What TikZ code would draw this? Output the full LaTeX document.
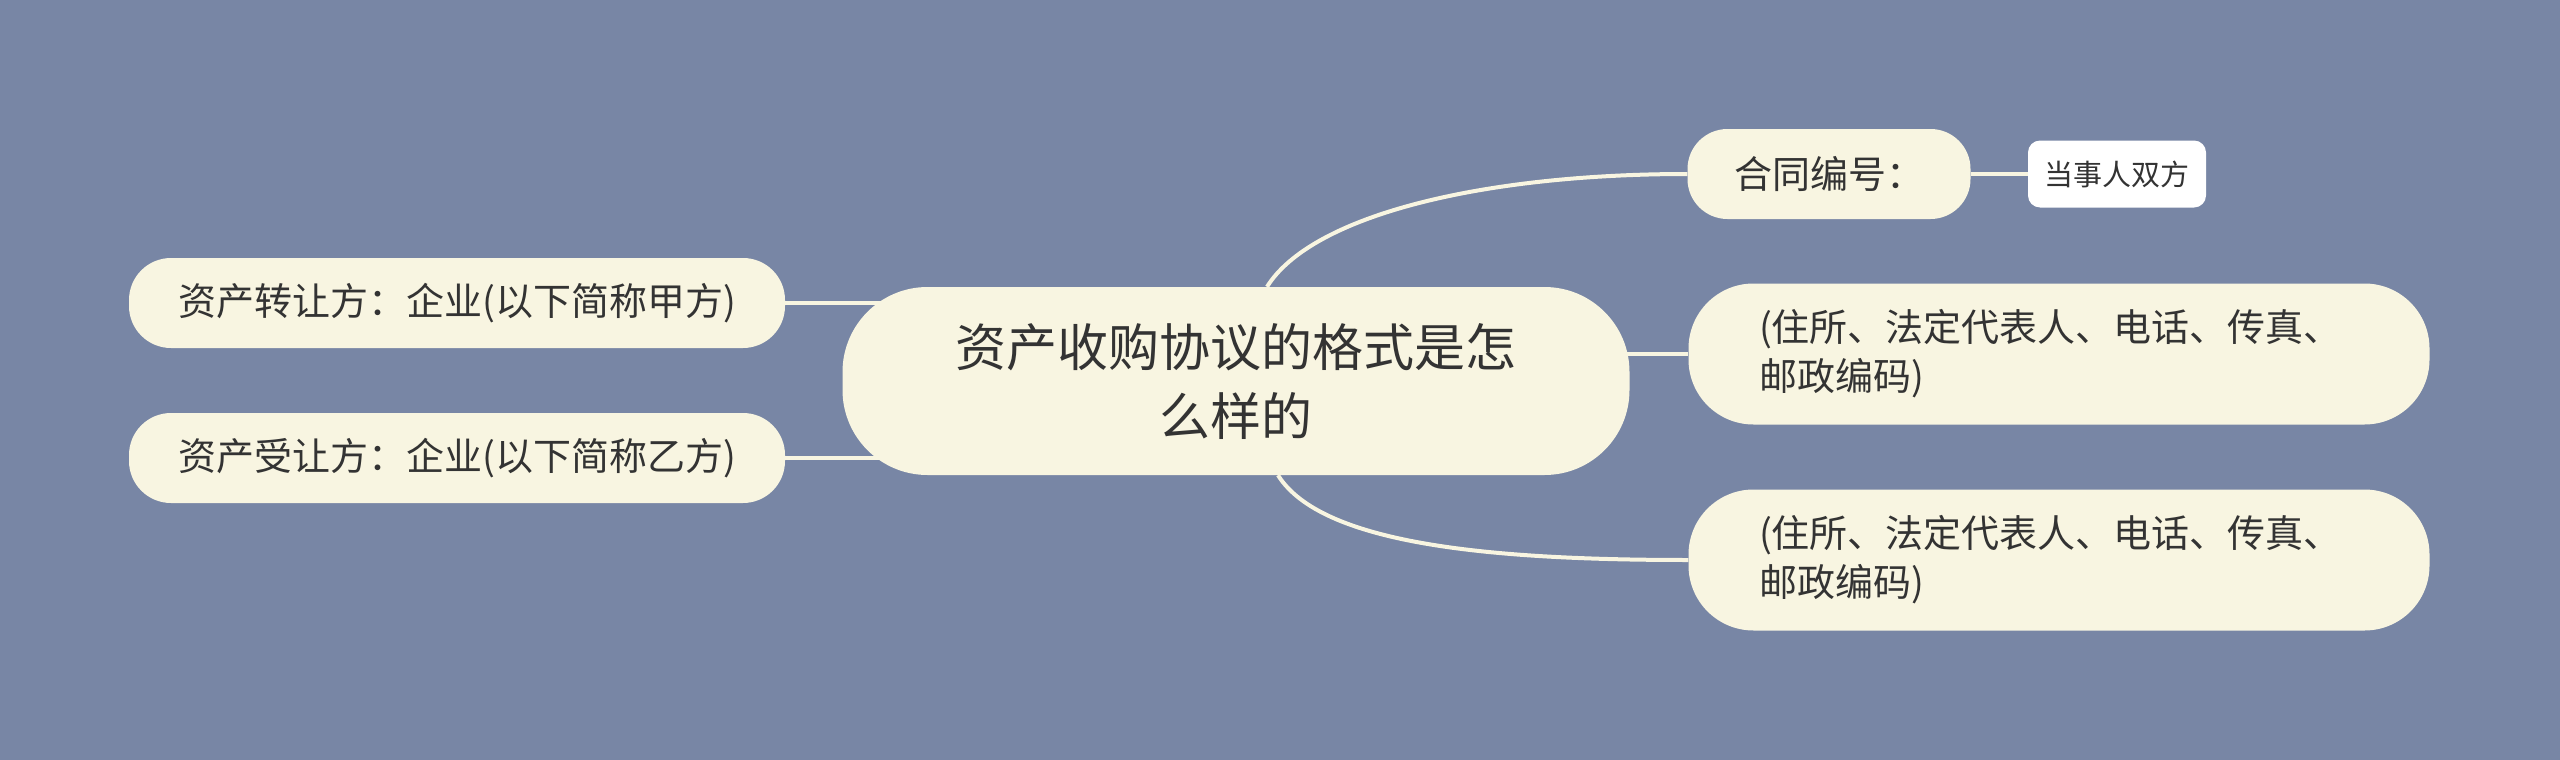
\documentclass[tikz,border=0pt]{standalone}
\usepackage{fontspec}
\setmainfont{Noto Sans CJK SC}
\usetikzlibrary{backgrounds}
\definecolor{bgblue}{HTML}{7886A5}
\definecolor{cream}{HTML}{F8F5E1}
\definecolor{ink}{HTML}{333333}

\begin{document}
\begin{tikzpicture}[x=1pt,y=-1pt]
  \useasboundingbox (0,0) rectangle (2560,760);

        \begin{scope}[every node/.style={fill=cream,text=ink,inner sep=0pt,align=center},
                      bigtext/.style={font=\fontsize{38}{49}\selectfont}]
          \node[minimum width=787pt,minimum height=188pt,rounded corners=85pt,
                font=\fontsize{51}{69}\selectfont] (root) at (1236,381) {资产收购协议的格式是怎\\么样的};
          \node[bigtext,minimum width=656pt,minimum height=90pt,rounded corners=42pt] (l1) at (457,303) {资产转让方：企业(以下简称甲方)};
          \node[bigtext,minimum width=656pt,minimum height=90pt,rounded corners=42pt] (l2) at (457,458) {资产受让方：企业(以下简称乙方)};
          \node[bigtext,minimum width=283pt,minimum height=90pt,rounded corners=40pt] (bianhao) at (1829,174) {合同编号：};
          \node[fill=white,minimum width=178pt,minimum height=67pt,rounded corners=12pt,
                font=\fontsize{29}{36}\selectfont] (shuangfang) at (2117,174) {当事人双方};
          \node[bigtext,align=left,text width=600pt,minimum width=741pt,minimum height=141pt,rounded corners=65pt] (r1) at (2059,354) {(住所、法定代表人、电话、传真、\\邮政编码)};
          \node[bigtext,align=left,text width=600pt,minimum width=741pt,minimum height=141pt,rounded corners=65pt] (r2) at (2059,560) {(住所、法定代表人、电话、传真、\\邮政编码)};
        \end{scope}

        \begin{pgfonlayer}{background}
          \fill[bgblue] (0,0) rectangle (2560,760);

          \begin{scope}[every edge/.style={draw=cream,line width=4pt}]
            \path ([xshift=31pt]root.north) edge[out=58,in=180,out looseness=0.5,in looseness=1.2] (bianhao.west);
            \path ([xshift=42pt]root.south) edge[out=-58,in=180,out looseness=0.5,in looseness=1.2] (r2.west);
            \path (r1.west -| root.center) edge (r1.west);
            \path (l1.east) edge (l1.east -| root.center);
            \path (l2.east) edge (l2.east -| root.center);
            \path (bianhao.east) edge (shuangfang.west);
          \end{scope}
        \end{pgfonlayer}

\end{tikzpicture}
\end{document}
